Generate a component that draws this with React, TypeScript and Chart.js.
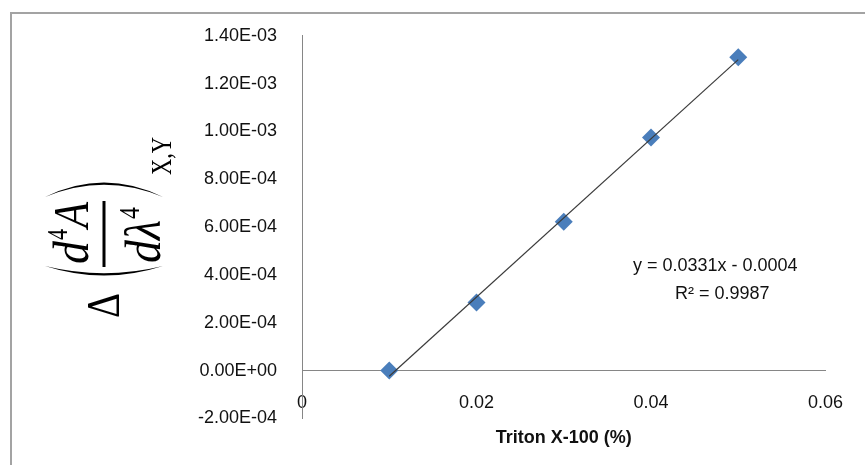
import React, { useEffect, useRef } from 'react';
import { Chart, registerables } from 'chart.js';

Chart.register(...registerables);

// Triton X-100 concentration (%) and the fourth-derivative amplitude difference
const tritonPct = [0.01, 0.02, 0.03, 0.04, 0.05];
const deltaD4 = [0, 0.000285, 0.000622, 0.000975, 0.00131];

// Axis ranges and tick spacing
const xRange = [0, 0.06];
const xStep = 0.02;
const yRange = [-0.0002, 0.0014];
const yStep = 0.0002;

const xTitle = 'Triton X-100 (%)';

const W = 865;
const H = 465;

const SANS = "'Liberation Sans', Arial, sans-serif";
const SERIF = "'Liberation Serif', 'Times New Roman', serif";

// Least-squares straight line through the points
function linearFit(xs: number[], ys: number[]) {
  const n = xs.length;
  const mx = xs.reduce((a, b) => a + b, 0) / n;
  const my = ys.reduce((a, b) => a + b, 0) / n;
  let sxy = 0;
  let sxx = 0;
  let syy = 0;
  for (let i = 0; i < n; i++) {
    sxy += (xs[i] - mx) * (ys[i] - my);
    sxx += (xs[i] - mx) ** 2;
    syy += (ys[i] - my) ** 2;
  }
  const slope = sxy / sxx;
  const intercept = my - slope * mx;
  let ssRes = 0;
  for (let i = 0; i < n; i++) {
    ssRes += (ys[i] - (slope * xs[i] + intercept)) ** 2;
  }
  return { slope, intercept, r2: 1 - ssRes / syy };
}

function sciLabel(v: number) {
  if (Math.abs(v) < 1e-12) return '0.00E+00';
  const [m, e] = v.toExponential(2).split('e');
  const exp = parseInt(e, 10);
  const sign = exp < 0 ? '-' : '+';
  return `${m}E${sign}${String(Math.abs(exp)).padStart(2, '0')}`;
}

function xLabel(v: number) {
  if (Math.abs(v) < 1e-12) return '0';
  return v.toFixed(2);
}

// Crescent-shaped bracket drawn in the rotated label frame
function bracket(ctx: CanvasRenderingContext2D, endX: number, apexOuter: number, apexInner: number, half: number) {
  const cOuter = 2 * apexOuter - endX;
  const cInner = 2 * apexInner - endX;
  ctx.beginPath();
  ctx.moveTo(endX, -half);
  ctx.quadraticCurveTo(cOuter, 0, endX, half);
  ctx.quadraticCurveTo(cInner, 0, endX, -half);
  ctx.closePath();
  ctx.fill();
}

// Vertical axis caption: Δ(d⁴A/dλ⁴)X,Y written bottom-to-top
function drawYCaption(ctx: CanvasRenderingContext2D) {
  ctx.save();
  ctx.translate(104, 318);
  ctx.rotate(-Math.PI / 2);
  ctx.fillStyle = '#000';
  ctx.textAlign = 'left';
  ctx.textBaseline = 'alphabetic';

  ctx.font = `46px ${SERIF}`;
  ctx.fillText('Δ', 0, 15, 25);

  bracket(ctx, 52, 42.5, 44.8, 59);

  // numerator
  ctx.font = `italic 50px ${SERIF}`;
  ctx.fillText('d', 54, -16, 23);
  ctx.font = `30px ${SERIF}`;
  ctx.fillText('4', 78, -37, 11);
  ctx.font = `italic 50px ${SERIF}`;
  ctx.fillText('A', 90, -16, 26);

  // fraction bar
  ctx.fillRect(51, -1.5, 66, 3);

  // denominator
  ctx.font = `italic 50px ${SERIF}`;
  ctx.fillText('d', 55, 56, 23);
  ctx.fillText('λ', 78, 56, 20);
  ctx.font = `30px ${SERIF}`;
  ctx.fillText('4', 99, 35, 12);

  bracket(ctx, 121, 135.5, 133.3, 59);

  ctx.font = `30px ${SERIF}`;
  ctx.fillText('X,Y', 143, 67, 38);
  ctx.restore();
}

export default function App() {
  const canvasRef = useRef<HTMLCanvasElement | null>(null);

  useEffect(() => {
    const canvas = canvasRef.current;
    if (!canvas) return;

    const fit = linearFit(tritonPct, deltaD4);
    const first = tritonPct[0];
    const last = tritonPct[tritonPct.length - 1];
    const fitLine = [
      { x: first, y: fit.slope * first + fit.intercept },
      { x: last, y: fit.slope * last + fit.intercept },
    ];
    const sign = fit.intercept < 0 ? '-' : '+';
    const eqText = `y = ${fit.slope.toFixed(4)}x ${sign} ${Math.abs(fit.intercept).toFixed(4)}`;
    const r2Text = `R² = ${fit.r2.toFixed(4)}`;

    const decorations = {
      id: 'decorations',
      beforeDraw(chart: Chart) {
        const ctx = chart.ctx;
        ctx.save();
        ctx.fillStyle = '#ffffff';
        ctx.fillRect(0, 0, W, H);
        ctx.strokeStyle = '#a3a3a3';
        ctx.lineWidth = 2;
        ctx.strokeRect(11, 13, W + 20, H + 20);
        ctx.restore();
      },
      afterDraw(chart: Chart) {
        const ctx = chart.ctx;
        drawYCaption(ctx);
        ctx.save();
        ctx.fillStyle = '#111111';
        ctx.font = `18px ${SANS}`;
        ctx.textBaseline = 'middle';
        ctx.textAlign = 'left';
        ctx.fillText(eqText, 633, 266);
        ctx.fillText(r2Text, 675, 294);
        ctx.restore();
      },
    };

    const chart = new Chart(canvas, {
      type: 'scatter',
      data: {
        datasets: [
          {
            type: 'line',
            label: 'Linear fit',
            data: fitLine,
            borderColor: '#3a3a3a',
            borderWidth: 1.2,
            pointRadius: 0,
            fill: false,
            order: 0,
          },
          {
            type: 'scatter',
            label: 'Δ(d4A/dλ4)',
            data: tritonPct.map((x, i) => ({ x, y: deltaD4[i] })),
            pointStyle: 'rectRot',
            pointRadius: 9,
            backgroundColor: '#4A7EBB',
            borderColor: '#4A7EBB',
            borderWidth: 0,
            order: 1,
          },
        ],
      },
      options: {
        responsive: false,
        animation: false,
        devicePixelRatio: 1,
        layout: { padding: { left: 0, right: 36, top: 35.5, bottom: 46.6 } },
        plugins: {
          legend: { display: false },
          tooltip: { enabled: false },
        },
        scales: {
          x: {
            type: 'linear',
            position: { y: 0 },
            min: xRange[0],
            max: xRange[1],
            grid: { display: false, drawTicks: false },
            border: { display: true, color: '#868686', width: 1 },
            ticks: {
              stepSize: xStep,
              padding: 22,
              color: '#111111',
              font: { family: SANS, size: 18 },
              callback: (v: any) => xLabel(Number(v)),
              maxRotation: 0,
            },
            title: {
              display: true,
              text: xTitle,
              color: '#111111',
              font: { family: SANS, size: 18, weight: 'bold' },
              padding: { top: -9, bottom: 0 },
            },
          },
          y: {
            type: 'linear',
            position: 'left',
            min: yRange[0],
            max: yRange[1],
            grid: { display: false, drawTicks: false },
            border: { display: true, color: '#868686', width: 1 },
            ticks: {
              stepSize: yStep,
              padding: 25,
              color: '#111111',
              font: { family: SANS, size: 18 },
              callback: (v: any) => sciLabel(Number(v)),
            },
            afterFit: (scale: any) => {
              scale.width = 302;
            },
          },
        },
      },
      plugins: [decorations],
    });

    return () => chart.destroy();
  }, []);

  return (
    <div style={{ position: 'absolute', left: 0, top: 0, width: W, height: H, background: '#fff' }}>
      <canvas ref={canvasRef} width={W} height={H} style={{ display: 'block', width: W, height: H }} />
    </div>
  );
}
